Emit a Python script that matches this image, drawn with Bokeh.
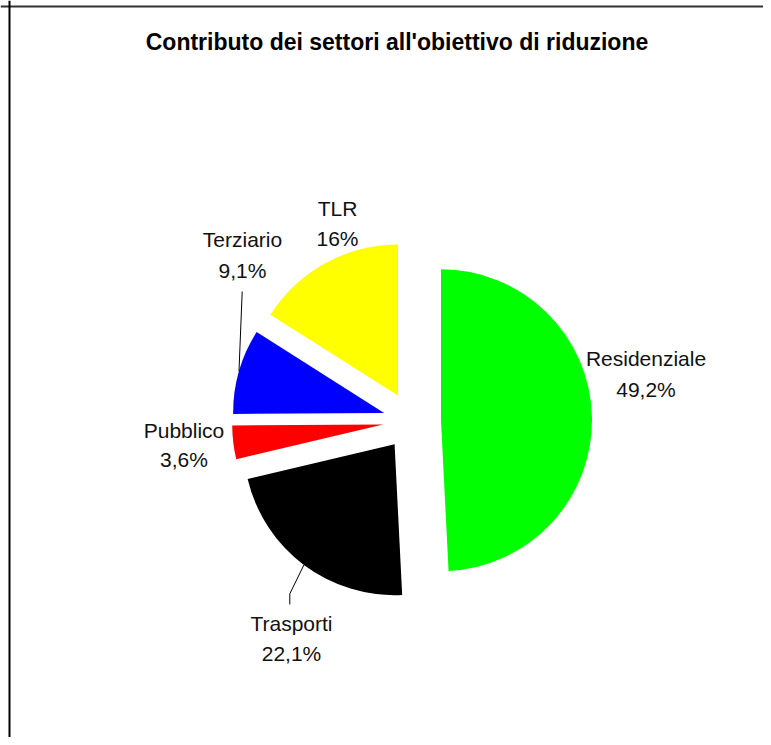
import math
from bokeh.plotting import figure
from bokeh.models import Range1d, Span, ColumnDataSource
from bokeh.core.properties import value
from bokeh.embed import file_html
from bokeh.resources import INLINE

# ---- data ----
title_text = "Contributo dei settori all'obiettivo di riduzione"
sectors = ["Residenziale", "Trasporti", "Pubblico", "Terziario", "TLR"]
shares = [49.2, 22.1, 3.6, 9.1, 16.0]
colors = ["#00FF00", "#000000", "#FF0000", "#0000FF", "#FFFF00"]

# ---- layout (style) ----
W, H = 763, 737
def sx(x):
    return x
def sy(y):
    return H - y

CX, CY = sx(411.5), sy(420.5)   # pie centre
R = 151                          # radius
EXPLODE = 29                     # explosion distance

# label anchors (px): (x_center, middle line1, middle line2)
label_pos = {
    "Residenziale": (645.5, 357.5, 389.0),
    "Trasporti": (291.0, 623.2, 652.5),
    "Pubblico": (183.5, 429.8, 459.2),
    "Terziario": (242.0, 238.8, 270.0),
    "TLR": (337.0, 207.5, 237.5),
}
# leader lines: label-side points (px), ending on arc mid-point
leader_pts = {
    "Trasporti": [(289.3, 604.0), (289.3, 593.3)],
    "Terziario": [(241.7, 291.0)],
}

p = figure(width=W, height=H, output_backend="svg", toolbar_location=None,
           x_range=Range1d(0, W), y_range=Range1d(0, H), min_border=0)
p.axis.visible = False
p.grid.visible = False
p.outline_line_color = None
p.background_fill_color = "white"
p.border_fill_color = "white"

total = sum(shares)
xs, ys, starts, ends, mids_x, mids_y = [], [], [], [], [], []
cum = 0.0
for v in shares:
    t0 = cum / total * 360.0
    cum += v
    t1 = cum / total * 360.0
    tm = math.radians((t0 + t1) / 2)
    dx, dy = math.sin(tm), math.cos(tm)
    vx, vy = CX + EXPLODE * dx, CY + EXPLODE * dy
    xs.append(vx)
    ys.append(vy)
    starts.append(math.pi / 2 - math.radians(t0))
    ends.append(math.pi / 2 - math.radians(t1))
    mids_x.append(vx + R * dx)
    mids_y.append(vy + R * dy)

src = ColumnDataSource(dict(x=xs, y=ys, start=starts, end=ends, color=colors))
p.wedge(x="x", y="y", radius=R, start_angle="start", end_angle="end",
        direction="clock", fill_color="color", line_color=None, source=src)

# leader lines
for i, name in enumerate(sectors):
    if name in leader_pts:
        pts = leader_pts[name]
        lx = [sx(a) for a, b in pts] + [mids_x[i]]
        ly = [sy(b) for a, b in pts] + [mids_y[i]]
        p.line(lx, ly, line_color="black", line_width=1)

# labels
def fmt(v):
    s = ("%.1f" % v).rstrip("0").rstrip(".")
    return s.replace(".", ",") + "%"

t_x, t_y, t_txt = [], [], []
for name, v in zip(sectors, shares):
    cx_, m1, m2 = label_pos[name]
    t_x += [sx(cx_), sx(cx_)]
    t_y += [sy(m1), sy(m2)]
    t_txt += [name, fmt(v)]
p.text(t_x, t_y, text=t_txt, text_font=value("Liberation Sans"),
       text_font_size="21px", text_align="center", text_baseline="middle",
       text_color="#111111")

# title
p.text([sx(396.5)], [sy(41.5)], text=[title_text], text_font=value("Liberation Sans"),
       text_font_size="23px", text_font_style="bold", text_align="center",
       text_baseline="middle", text_color="black")

# chart-area frame (top and left edges visible)
p.add_layout(Span(location=sy(6), dimension="width", line_color="#333333", line_width=2))
p.add_layout(Span(location=sx(9), dimension="height", line_color="black", line_width=2))

open("out.html", "w").write(file_html(p, INLINE))
